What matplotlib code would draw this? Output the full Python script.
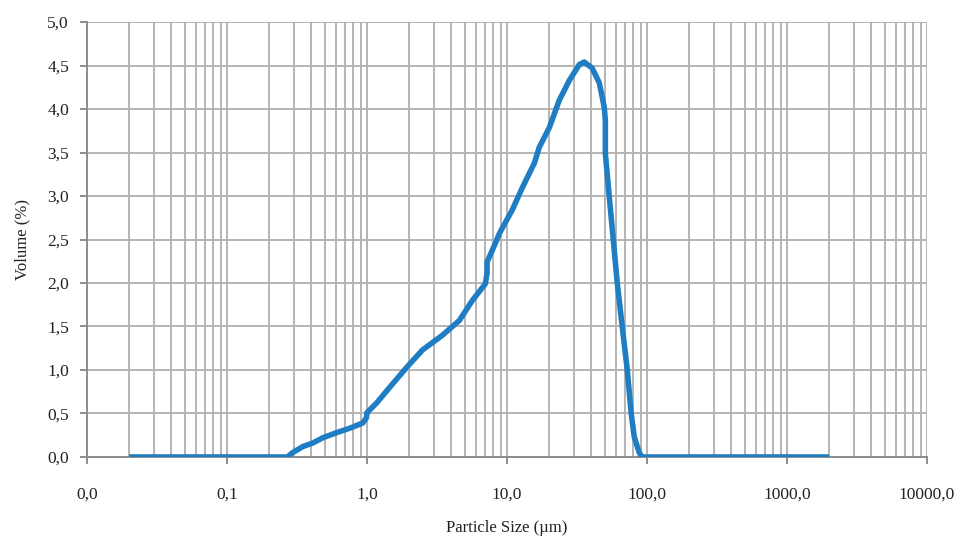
import matplotlib
matplotlib.use("Agg")
import matplotlib.pyplot as plt
from matplotlib.ticker import FixedLocator, LogLocator, NullFormatter

# particle size distribution (size in um, volume in %)
size_um = [0.02, 0.27, 0.294, 0.348, 0.409, 0.482, 0.607, 0.751, 0.931, 0.99,
           1.0, 1.17, 1.45, 1.92, 2.49, 3.46, 4.57, 5.66, 7.0, 7.2, 7.2,
           7.87, 8.83, 10.9, 12.9, 15.7, 17.0, 20.1, 23.6, 27.9, 32.8, 35.6,
           40.6, 45.6, 49.5, 50.4, 50.4, 53.7, 57.4, 61.3, 66.5, 72.3, 77.1,
           81.1, 88.0, 92.4, 2000.0]
volume_pct = [0.0, 0.0, 0.05, 0.12, 0.16, 0.22, 0.28, 0.33, 0.39, 0.45,
              0.51, 0.62, 0.80, 1.03, 1.23, 1.40, 1.57, 1.80, 1.99, 2.11, 2.24,
              2.38, 2.57, 2.84, 3.10, 3.38, 3.56, 3.79, 4.10, 4.33, 4.51, 4.54,
              4.47, 4.30, 4.02, 3.87, 3.49, 3.0, 2.5, 2.0, 1.5, 1.0, 0.5,
              0.23, 0.05, 0.0, 0.0]

x_ticks = [0.01, 0.1, 1, 10, 100, 1000, 10000]
x_tick_labels = ["0,0", "0,1", "1,0", "10,0", "100,0", "1000,0", "10000,0"]
y_ticks = [0.0, 0.5, 1.0, 1.5, 2.0, 2.5, 3.0, 3.5, 4.0, 4.5, 5.0]
y_tick_labels = ["0,0", "0,5", "1,0", "1,5", "2,0", "2,5", "3,0", "3,5", "4,0", "4,5", "5,0"]

plt.rcParams["font.family"] = ["Liberation Serif", "DejaVu Serif"]

fig = plt.figure(figsize=(9.55, 5.41), dpi=100)
ax = fig.add_axes([0.0911, 0.1553, 0.8796, 0.8040])

grid_color = "#b4b4b4"
ax.set_xscale("log")
ax.set_xlim(0.01, 10000)
ax.set_ylim(0, 5)

ax.xaxis.set_major_locator(FixedLocator(x_ticks))
ax.xaxis.set_minor_locator(LogLocator(base=10, subs=range(2, 10)))
ax.xaxis.set_minor_formatter(NullFormatter())
ax.set_xticklabels(x_tick_labels)
ax.set_yticks(y_ticks)
ax.set_yticklabels(y_tick_labels)

ax.grid(True, which="major", color=grid_color, linewidth=1.4)
ax.grid(True, which="minor", axis="x", color=grid_color, linewidth=1.4)
ax.set_axisbelow(True)

ax.plot(size_um, volume_pct, color="#1f7ec3", linewidth=4.0,
        solid_joinstyle="round", solid_capstyle="butt", zorder=3)

for side in ["top", "right"]:
    ax.spines[side].set_visible(False)
for side in ["left", "bottom"]:
    ax.spines[side].set_color("#8c8c8c")
    ax.spines[side].set_linewidth(1.4)

ax.tick_params(axis="both", which="major", length=5, width=1.4, color="#8c8c8c",
               labelsize=12.5, labelcolor="#222222")
ax.tick_params(axis="x", which="major", pad=16)
ax.tick_params(axis="y", which="major", pad=8)
ax.tick_params(axis="x", which="minor", length=0)

ax.set_xlabel("Particle Size (µm)", fontsize=12, color="#222222", labelpad=13)
ax.set_ylabel("Volume (%)", fontsize=12, color="#222222", labelpad=12)

fig.savefig("out.png", dpi=100)
